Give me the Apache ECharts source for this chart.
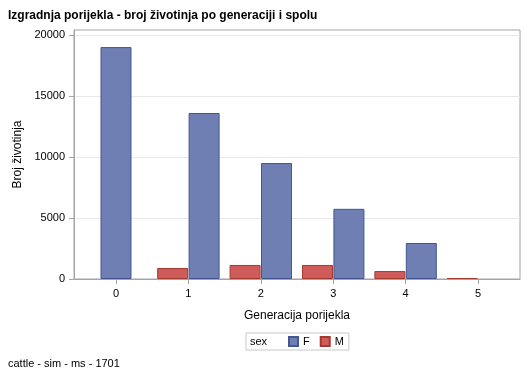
<!DOCTYPE html>
<html>
<head>
<meta charset="utf-8">
<script src="https://cdn.jsdelivr.net/npm/echarts@6/dist/echarts.min.js"></script>
<style>
html,body{margin:0;padding:0;background:#fff;}
#chart{width:529px;height:378px;}
</style>
</head>
<body>
<div id="chart"></div>
<script>
// Data
var categories = [0, 1, 2, 3, 4, 5];
var valuesF = [19000, 13600, 9500, 5750, 2950, 0];
var valuesM = [null, 900, 1150, 1150, 650, 80];
var yTicks = [0, 5000, 10000, 15000, 20000];
var titleText = 'Izgradnja porijekla - broj životinja po generaciji i spolu';
var footText = 'cattle - sim - ms - 1701';

var halfW = 0.217; // half bar width in category units
function present(v) { return v !== null && v !== undefined; }
function pos(i, isF) {
  if (present(valuesM[i]) && present(valuesF[i])) return categories[i] + (isF ? halfW : -halfW);
  return categories[i];
}
var dataF = categories.map(function (c, i) { return present(valuesF[i]) && valuesF[i] > 0 ? [pos(i, true), valuesF[i]] : null; }).filter(function (d) { return d; });
var dataM = categories.map(function (c, i) { return present(valuesM[i]) && valuesM[i] > 0 ? [pos(i, false), valuesM[i]] : null; }).filter(function (d) { return d; });

var font = 'Liberation Sans, Arial, sans-serif';
var chart = echarts.init(document.getElementById('chart'));
chart.setOption({
  animation: false,
  textStyle: { fontFamily: font },
  title: {
    text: titleText, left: 3, top: 5,
    textStyle: { fontSize: 12, fontWeight: 'bold', color: '#000', fontFamily: font }
  },
  grid: {
    left: 74, top: 30, right: 9, bottom: 99,
    show: true, borderColor: '#a5a5a5', borderWidth: 1, backgroundColor: 'transparent'
  },
  legend: {
    data: ['F', 'M'],
    left: 246, top: 333,
    padding: [3, 5, 3, 42],
    itemWidth: 9, itemHeight: 9, itemGap: 10,
    borderColor: '#c8c8c8', borderWidth: 1,
    textStyle: { fontSize: 11, color: '#000' },
    icon: 'rect'
  },
  graphic: [
    { type: 'text', left: 250, top: 336, style: { text: 'sex', fontSize: 11, fill: '#000', fontFamily: font } },
    { type: 'text', left: 8, top: 358, style: { text: footText, fontSize: 11, fill: '#000', fontFamily: font } }
  ],
  xAxis: {
    type: 'value', min: -0.58, max: 5.58,
    name: 'Generacija porijekla', nameLocation: 'middle', nameGap: 31,
    nameTextStyle: { fontSize: 12, color: '#000' },
    axisLine: { show: true, onZero: false, lineStyle: { color: '#a5a5a5' } },
    axisTick: { show: true, length: 5, customValues: categories, lineStyle: { color: '#a5a5a5' } },
    axisLabel: { customValues: categories, fontSize: 11, color: '#000', margin: 9 },
    splitLine: { show: false }
  },
  yAxis: {
    type: 'value', min: 0, max: 20400,
    name: 'Broj životinja', nameLocation: 'middle', nameGap: 48,
    nameTextStyle: { fontSize: 12, color: '#000' },
    axisLine: { show: true, onZero: false, lineStyle: { color: '#a5a5a5' } },
    axisTick: { show: true, length: 5, customValues: yTicks, lineStyle: { color: '#a5a5a5' } },
    axisLabel: { customValues: yTicks, fontSize: 11, color: '#000', margin: 9,
      formatter: function (v) { return String(v); } },
    splitLine: { show: true, lineStyle: { color: '#e8e8e8' } }
  },
  series: [
    {
      name: 'F', type: 'bar', data: dataF, barWidth: 31, barGap: '-100%',
      itemStyle: { color: '#6F7EB3', borderColor: '#445694', borderWidth: 1 }
    },
    {
      name: 'M', type: 'bar', data: dataM, barWidth: 31, barGap: '-100%',
      itemStyle: { color: '#D05B5B', borderColor: '#A23A2E', borderWidth: 1 }
    }
  ]
});
</script>
</body>
</html>
